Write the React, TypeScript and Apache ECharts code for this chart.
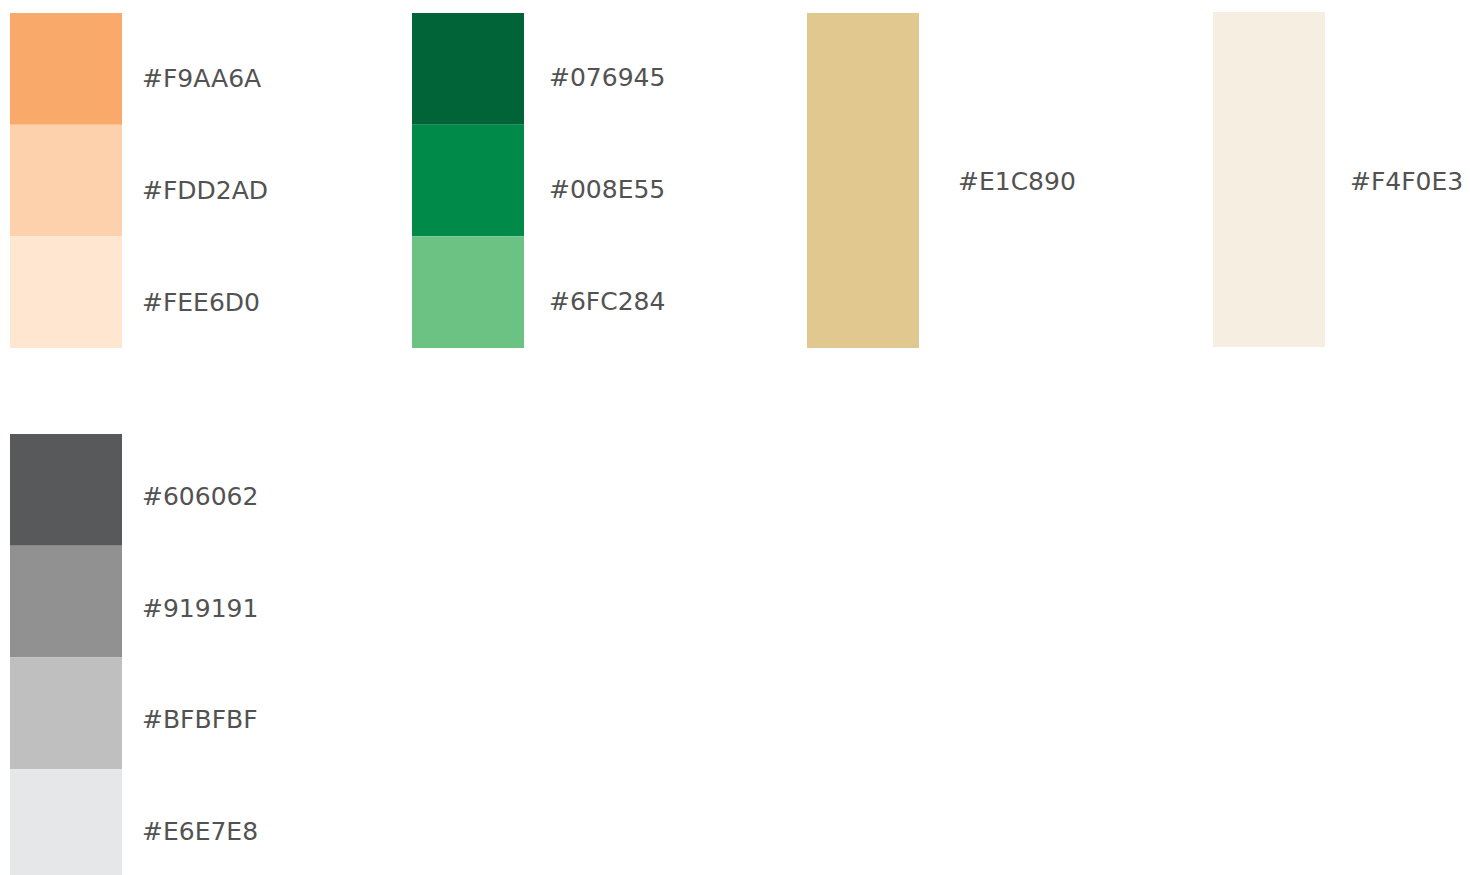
import React, { useEffect, useRef } from "react";
import * as echarts from "echarts";

// Palette data
const orangeLabels = ["#F9AA6A", "#FDD2AD", "#FEE6D0"];
const orangeFills = ["#F9A969", "#FDD1AC", "#FEE6D0"];
const greenLabels = ["#076945", "#008E55", "#6FC284"];
const greenFills = ["#006438", "#008A4A", "#6CC283"];
const sandLabels = ["#E1C890"];
const sandFills = ["#E1C88E"];
const creamLabels = ["#F4F0E3"];
const creamFills = ["#F5EEE1"];
const greyLabels = ["#606062", "#919191", "#BFBFBF", "#E6E7E8"];
const greyFills = ["#58595B", "#919191", "#BFBFBF", "#E6E7E8"];

// Layout (px in page)
const groups = [
  { labels: orangeLabels, fills: orangeFills, left: 10, top: 13, height: 335, gap: 20, dy: 10 },
  { labels: greenLabels, fills: greenFills, left: 412, top: 13, height: 335, gap: 25, dy: 9 },
  { labels: sandLabels, fills: sandFills, left: 807, top: 13, height: 335, gap: 39, dy: 1 },
  { labels: creamLabels, fills: creamFills, left: 1213, top: 12, height: 335, gap: 25, dy: 2 },
  { labels: greyLabels, fills: greyFills, left: 10, top: 434, height: 447, gap: 20, dy: 6.5 },
];

export default function App() {
  const ref = useRef<HTMLDivElement>(null);
  useEffect(() => {
    if (!ref.current) return;
    const chart = echarts.init(ref.current, undefined, { renderer: "svg" });
    const grid: any[] = [];
    const xAxis: any[] = [];
    const yAxis: any[] = [];
    const series: any[] = [];
    groups.forEach((g, gi) => {
      grid.push({ left: g.left, top: g.top, width: 112, height: g.height, containLabel: false });
      xAxis.push({ type: "category", gridIndex: gi, data: ["s"], show: false });
      yAxis.push({ type: "value", gridIndex: gi, min: 0, max: g.labels.length, inverse: true, show: false });
      g.labels.forEach((lab, i) => {
        series.push({
          type: "bar",
          xAxisIndex: gi,
          yAxisIndex: gi,
          stack: "g" + gi,
          barWidth: "100%",
          barCategoryGap: 0,
          data: [1],
          itemStyle: { color: g.fills[i] },
          label: {
            show: true,
            position: "right",
            distance: g.gap,
            offset: [0, g.dy],
            formatter: lab,
            fontSize: 25,
            fontFamily: "DejaVu Sans",
            color: "#525252",
          },
          silent: true,
        });
      });
    });
    chart.setOption({ animation: false, backgroundColor: "#ffffff", grid, xAxis, yAxis, series });
    return () => chart.dispose();
  }, []);
  return <div ref={ref} style={{ position: "fixed", left: 0, top: 0, width: 1470, height: 890 }} />;
}
